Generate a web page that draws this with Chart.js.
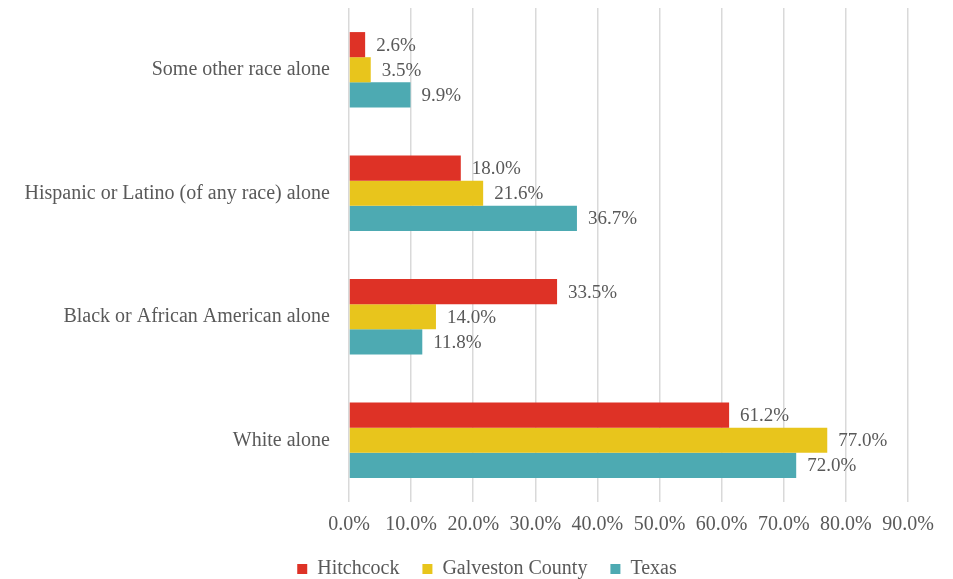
<!DOCTYPE html>
<html>
<head>
<meta charset="utf-8">
<script src="https://cdn.jsdelivr.net/npm/chart.js@4"></script>
<style>
    html, body { margin: 0; padding: 0; background: #fff; }
    #box { width: 953px; height: 579px; }
</style>
</head>
<body>
<div id="box"><canvas id="grafico"></canvas></div>
<script>
// categorias (de cima para baixo)
const categorias = ['Some other race alone', 'Hispanic or Latino (of any race) alone',
    'Black or African American alone', 'White alone'];

// valores em %
const hitchcock = [2.6, 18.0, 33.5, 61.2];
const galveston = [3.5, 21.6, 14.0, 77.0];
const texas = [9.9, 36.7, 11.8, 72.0];

const ticksX = [0, 10, 20, 30, 40, 50, 60, 70, 80, 90];

const corTexto = '#595959';
const fonte = "'Liberation Serif', 'DejaVu Serif', serif";

// rótulos com o valor no fim de cada barra
const rotulosValor = {
    id: 'rotulosValor',
    afterDatasetsDraw(chart) {
        const c = chart.ctx;
        c.save();
        c.font = '19px ' + fonte;
        c.fillStyle = corTexto;
        c.textBaseline = 'middle';
        c.textAlign = 'left';
        chart.data.datasets.forEach(function (ds, i) {
            chart.getDatasetMeta(i).data.forEach(function (barra, j) {
                c.fillText(ds.data[j].toFixed(1) + '%', barra.x + 11, barra.y + 1);
            });
        });
        c.restore();
    }
};

// legenda um pouco deslocada para a direita, como no original
const moverLegenda = {
    id: 'moverLegenda',
    afterLayout(chart) {
        chart.legend.left += 33;
        chart.legend.right += 33;
    }
};

new Chart(document.getElementById('grafico'), {
    type: 'bar',
    data: {
        labels: categorias,
        datasets: [
            {
                label: 'Hitchcock',
                data: hitchcock,
                backgroundColor: '#DE3226'
            },
            {
                label: 'Galveston County',
                data: galveston,
                backgroundColor: '#E8C51C'
            },
            {
                label: 'Texas',
                data: texas,
                backgroundColor: '#4DAAB2'
            }
        ]
    },
    options: {
        indexAxis: 'y',
        responsive: true,
        maintainAspectRatio: false,
        animation: false,
        layout: {
            padding: { left: 0, right: 45, top: 8, bottom: -10 }
        },
        datasets: {
            bar: {
                categoryPercentage: 0.61,
                barPercentage: 1.0
            }
        },
        plugins: {
            legend: {
                position: 'bottom',
                labels: {
                    color: corTexto,
                    font: { family: fonte, size: 20 },
                    boxWidth: 10,
                    boxHeight: 10,
                    padding: 23
                }
            },
            tooltip: { enabled: false }
        },
        scales: {
            x: {
                min: 0,
                max: 90,
                clip: false,
                afterBuildTicks(eixo) {
                    eixo.ticks = ticksX.map(function (v) { return { value: v }; });
                },
                afterFit(eixo) { eixo.height = 34; },
                ticks: {
                    color: corTexto,
                    font: { family: fonte, size: 20, lineHeight: 1 },
                    padding: 13,
                    callback: function (v) { return Number(v).toFixed(1) + '%'; }
                },
                grid: {
                    color: '#D9D9D9',
                    lineWidth: 1.5,
                    drawTicks: false
                },
                border: { display: false }
            },
            y: {
                clip: false,
                afterFit(eixo) {
                    eixo.width = 349;
                    eixo.paddingTop = 0;
                    eixo.paddingBottom = 0;
                },
                ticks: {
                    color: corTexto,
                    font: { family: fonte, size: 20 },
                    padding: 19
                },
                grid: { display: false, drawTicks: false },
                border: { display: false }
            }
        }
    },
    plugins: [rotulosValor, moverLegenda]
});
</script>
</body>
</html>
